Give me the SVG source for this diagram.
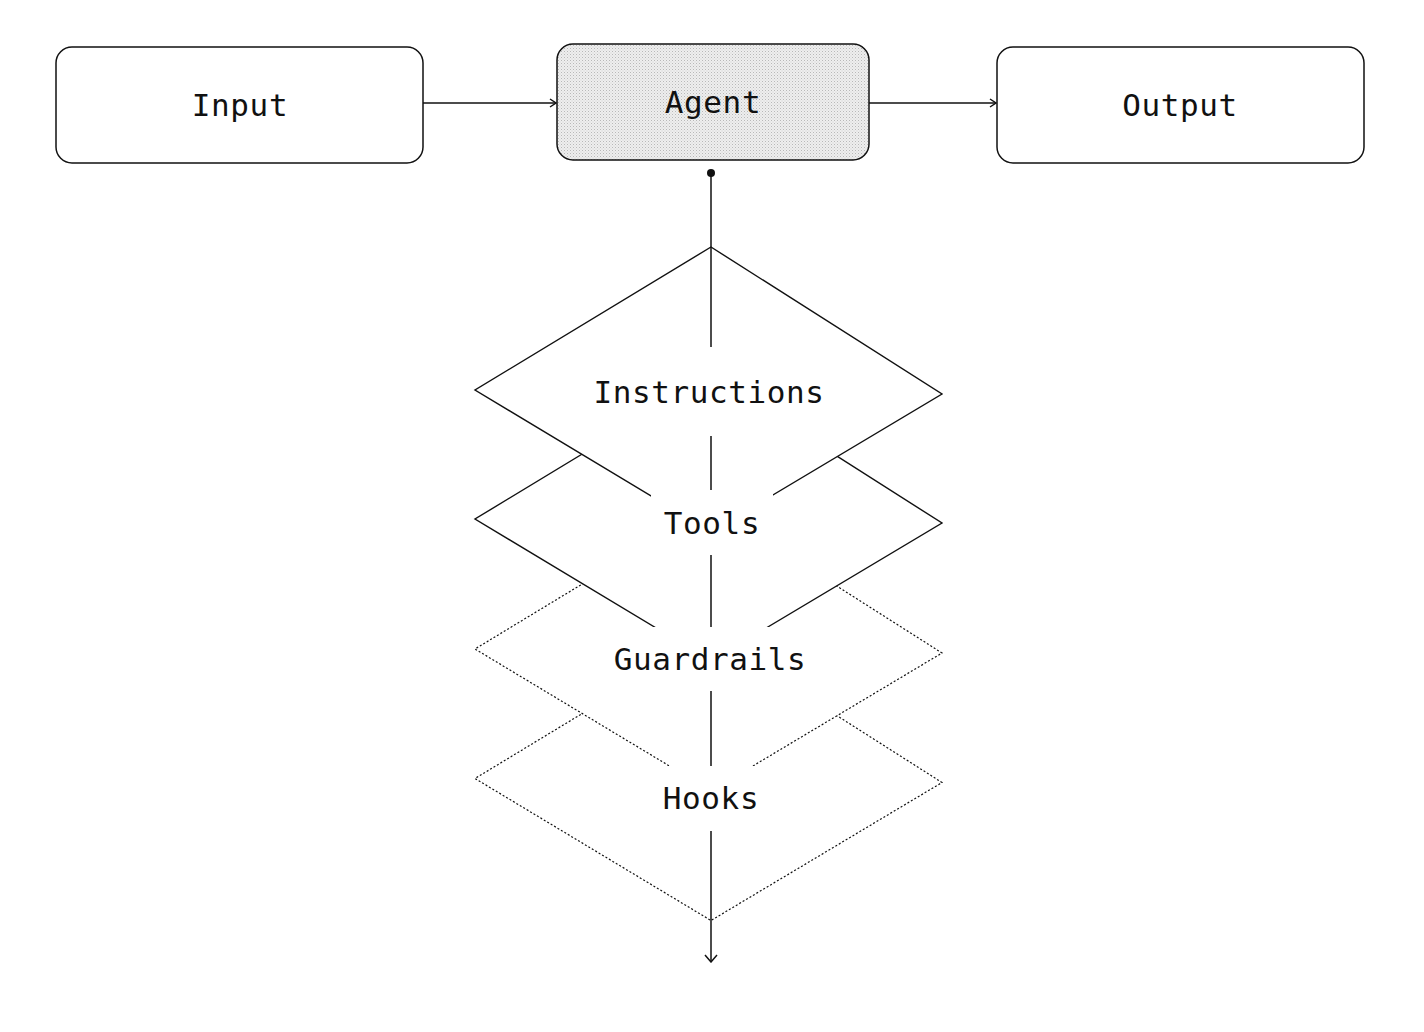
<svg xmlns="http://www.w3.org/2000/svg" width="1424" height="1032" viewBox="0 0 1424 1032">
<style>
.box{fill:#fff;stroke:#111;stroke-width:1.5}
.lbl{font-family:"DejaVu Sans Mono","Liberation Mono",monospace;font-size:31px;letter-spacing:0.6px;fill:#111;text-anchor:middle}
.solid{fill:#fff;stroke:#111;stroke-width:1.4}
.dot{fill:#fff;stroke:#111;stroke-width:1.2;stroke-dasharray:2 2}
.conn{fill:none;stroke:#111;stroke-width:1.5}
.bg{fill:#fff;stroke:none}
</style>
<defs>
<pattern id="stip" width="3" height="3" patternUnits="userSpaceOnUse">
<rect width="3" height="3" fill="#eeeeee"/>
<rect x="0" y="0" width="1" height="1" fill="#b8b8b8"/>
<rect x="1.5" y="1.5" width="1" height="1" fill="#cfcfcf"/>
</pattern>
<marker id="arr" viewBox="0 0 10 10" refX="9" refY="5" markerWidth="10" markerHeight="10" markerUnits="userSpaceOnUse" orient="auto">
<path d="M3,1 L9,5 L3,9" fill="none" stroke="#111" stroke-width="1.5"/>
</marker>
<marker id="arr2" viewBox="0 0 14 14" refX="13" refY="7" markerWidth="14" markerHeight="14" markerUnits="userSpaceOnUse" orient="auto">
<path d="M6,1 L13,7 L6,13" fill="none" stroke="#111" stroke-width="1.5"/>
</marker>
</defs>
<rect width="1424" height="1032" fill="#fff"/>

<g id="connectors">
<line class="conn" x1="423" y1="103" x2="556" y2="103" marker-end="url(#arr)"/>
<line class="conn" x1="869" y1="103" x2="996" y2="103" marker-end="url(#arr)"/>
</g>

<g id="node-input">
<rect class="box" x="56" y="47" width="367" height="116" rx="16"/>
<text class="lbl" x="240" y="116">Input</text>
</g>
<g id="node-agent">
<rect x="557" y="44" width="312" height="116" rx="16" fill="url(#stip)" stroke="#111" stroke-width="1.5"/>
<text class="lbl" x="713" y="113">Agent</text>
</g>
<g id="node-output">
<rect class="box" x="997" y="47" width="367" height="116" rx="16"/>
<text class="lbl" x="1180" y="116">Output</text>
</g>

<g id="layers">
<polygon id="layer-hooks" class="dot" points="711,635.5 942,782.5 711,920.5 475,778.5"/>
<polygon id="layer-guardrails" class="dot" points="711,506 942,653 711,791 475,649"/>
<polygon id="layer-tools" class="solid" points="711,376 942,523 711,661 475,519"/>
<polygon id="layer-instructions" class="solid" points="711,247 942,394 711,532 475,390"/>
</g>

<g id="spine">
<circle cx="711" cy="173" r="4" fill="#111"/>
<line class="conn" x1="711" y1="173" x2="711" y2="962" marker-end="url(#arr2)"/>
</g>

<g id="labels">
<rect class="bg" x="580" y="347" width="258" height="89"/>
<text class="lbl" x="709" y="403">Instructions</text>
<rect class="bg" x="651" y="490" width="122" height="65"/>
<text class="lbl" x="712" y="534">Tools</text>
<rect class="bg" x="600" y="627" width="220" height="64"/>
<text class="lbl" x="710" y="670">Guardrails</text>
<rect class="bg" x="650" y="766" width="124" height="65"/>
<text class="lbl" x="711" y="809">Hooks</text>
</g>
</svg>
